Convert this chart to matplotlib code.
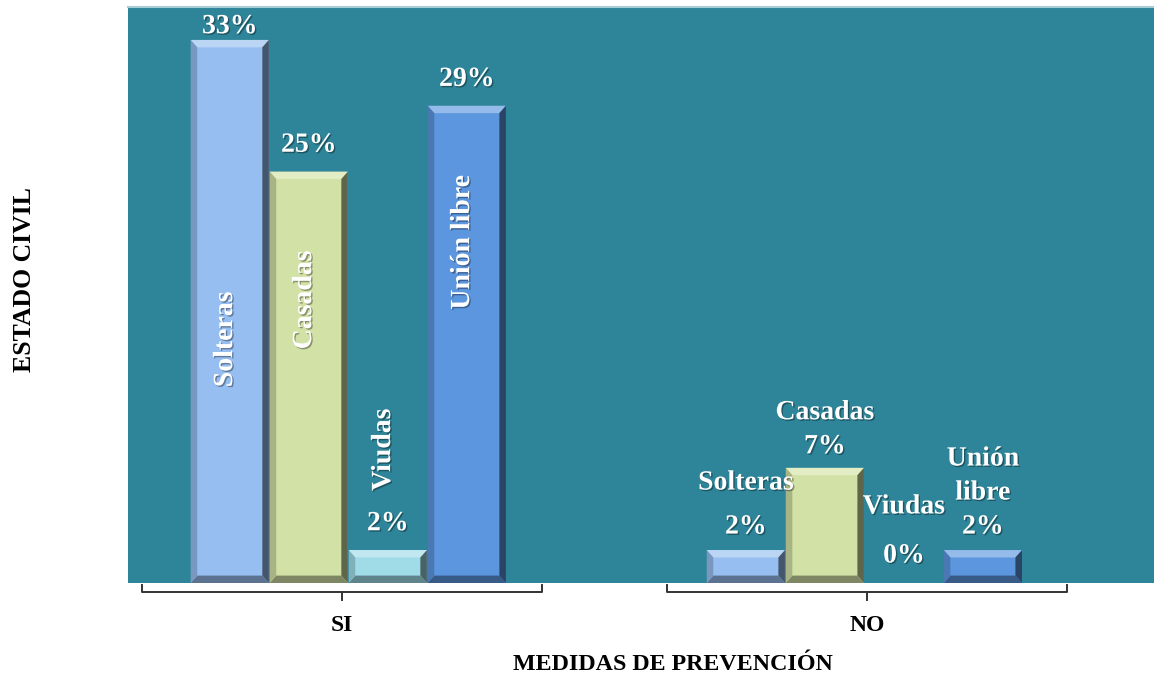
import matplotlib.pyplot as plt
import matplotlib.patheffects as pe
import matplotlib.transforms as mtransforms
from matplotlib.patches import Polygon
from matplotlib.colors import to_rgb
import numpy as np

groups = ["SI", "NO"]
estados = ["Solteras", "Casadas", "Viudas", "Unión libre"]
si_vals = [33, 25, 2, 29]
no_vals = [2, 7, 0, 2]
colors = ["#97BEF0", "#D2E1A5", "#A0DCE8", "#5B96DF"]
bg = "#2E8498"

# where the rotated names sit inside the SI bars (data units)
si_name_y = [14.8, 17.2, 8.1, 20.7]
# NO group: pixel gaps bar top -> value, value -> name
no_val_gap = [23, 21, 27, 23]
no_name_gap = [44, 34, 49, 34]

plt.rcParams["font.family"] = ["Liberation Serif", "DejaVu Serif"]
plt.rcParams["font.weight"] = "bold"

fig = plt.figure(figsize=(11.54, 6.83), dpi=100)
ax = fig.add_axes([128 / 1154, 1 - 583 / 683, 1 - 128 / 1154, 576 / 683])
ax.set_facecolor(bg)
ax.set_xlim(-0.4076, 1.5467)
ax.set_ylim(0, 35.0)
for s in ["left", "right", "bottom"]:
    ax.spines[s].set_visible(False)
ax.spines["top"].set_color("#A9CDD6")
ax.spines["top"].set_linewidth(1.5)
ax.set_xticks([])
ax.set_yticks([])

width = 0.149
step = 0.1505
offsets = (np.arange(4) - 1.5) * step
shift = {"SI": 0.012, "NO": -0.005}
shadow = [pe.withSimplePatchShadow(offset=(1, -1), shadow_rgbFace="k", alpha=0.35)]


def shade(c, f):
    r = np.array(to_rgb(c))
    return tuple(r * f) if f < 1 else tuple(r + (1 - r) * (f - 1))


def bevel(x0, h, c):
    # bevelled edges drawn over a plain bar
    if h <= 0:
        return
    bx, by = 0.0125, min(0.45, h / 3)
    x1 = x0 + width
    faces = [
        ([(x0, h), (x1, h), (x1 - bx, h - by), (x0 + bx, h - by)], shade(c, 1.35)),
        ([(x1, h), (x1, 0), (x1 - bx, by), (x1 - bx, h - by)], shade(c, 0.45)),
        ([(x0, 0), (x1, 0), (x1 - bx, by), (x0 + bx, by)], shade(c, 0.6)),
        ([(x0, h), (x0, 0), (x0 + bx, by), (x0 + bx, h - by)], shade(c, 0.8)),
    ]
    for pts, fc in faces:
        ax.add_patch(Polygon(pts, closed=True, fc=fc, ec="none", zorder=3))


label_kw = dict(color="white", fontsize=20, fontweight="bold", ha="center",
                va="center", path_effects=shadow, zorder=5)
px = 1 / 16.45

# SI group
for i, v in enumerate(si_vals):
    xc = shift["SI"] + offsets[i]
    ax.bar(xc, v, width, color=colors[i], zorder=2)
    bevel(xc - width / 2, v, colors[i])
    ax.text(xc - 0.008, si_name_y[i], estados[i], rotation=90, **label_kw)
    ax.text(xc, min(v + 1.6, 33.8), f"{v}%", **label_kw)

# NO group: names stacked above the bars
for i, v in enumerate(no_vals):
    xc = 1 + shift["NO"] + offsets[i]
    ax.bar(xc, v, width, color=colors[i], zorder=2)
    bevel(xc - width / 2, v, colors[i])
    yv = v + no_val_gap[i] * px
    ax.text(xc, yv, f"{v}%", **label_kw)
    lines = estados[i].split(" ")
    for k, word in enumerate(reversed(lines)):
        ax.text(xc, yv + (no_name_gap[i] + 34 * k) * px, word, **label_kw)

# category brackets under the plot
trans = mtransforms.blended_transform_factory(ax.transData, ax.transAxes)
half = 0.381
for g, xg in zip(groups, [0, 1]):
    ax.plot([xg - half, xg - half, xg + half, xg + half],
            [-0.004, -0.0156, -0.0156, -0.004], color="#333333", lw=1.4,
            transform=trans, clip_on=False)
    ax.plot([xg, xg], [-0.0156, -0.0295], color="#333333", lw=1.4,
            transform=trans, clip_on=False)
    ax.text(xg, -0.073, g, transform=trans, ha="center", va="center",
            fontsize=17, fontweight="bold", color="black")

fig.text(673 / 1154, 1 - 665 / 683, "MEDIDAS DE PREVENCIÓN", ha="center",
         va="center", fontsize=17.3, fontweight="bold")
fig.text(25 / 1154, 1 - 280 / 683, "ESTADO CIVIL", rotation=90, ha="center",
         va="center", fontsize=18.5, fontweight="bold")

fig.savefig("out.png", dpi=100)
